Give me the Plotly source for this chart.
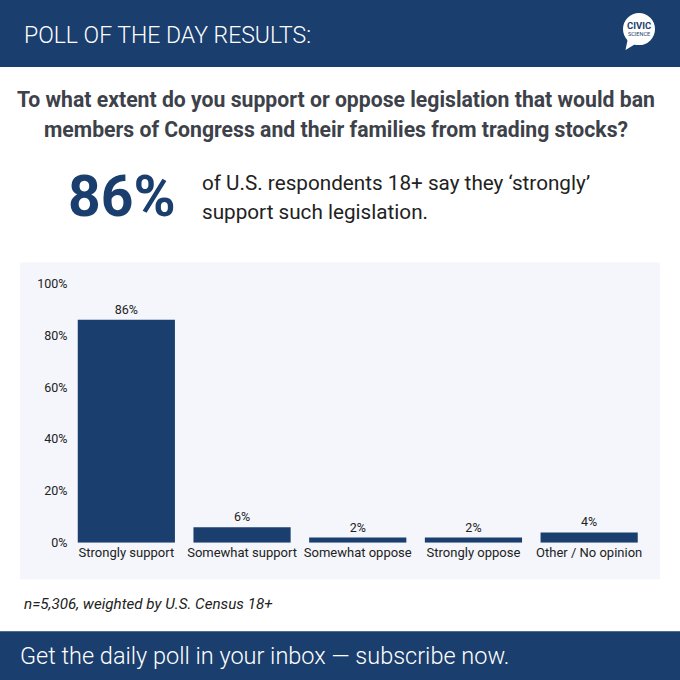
import plotly.graph_objects as go

categories = ["Strongly support", "Somewhat support", "Somewhat oppose", "Strongly oppose", "Other / No opinion"]
values = [86, 6, 2, 2, 4]
tick_vals = [0, 20, 40, 60, 80, 100]
tick_text = ["0%", "20%", "40%", "60%", "80%", "100%"]

NAVY = "#1a3e6d"
GRAY = "#3d4149"
PANEL = "#f4f6fb"
W = H = 680

def py(p):
    # target pixel row -> paper fraction (compensates the capture offset)
    f = (p - 8) / 0.976
    return 1 - f / H

def px(p):
    return p / W

fig = go.Figure()
fig.add_trace(go.Bar(
    x=categories, y=values,
    marker=dict(color=NAVY, line=dict(width=0)),
    text=[f"{v}%" for v in values], textposition="outside",
    textfont=dict(family="Roboto", size=12.5, color="#222222"),
    cliponaxis=False, width=0.84,
))

shapes = [
    dict(type="rect", xref="paper", yref="paper", x0=-0.05, x1=1.05, y0=py(67), y1=1.05,
         fillcolor=NAVY, line=dict(width=0), layer="below"),
    dict(type="rect", xref="paper", yref="paper", x0=-0.05, x1=1.05, y0=-0.05, y1=py(630),
         fillcolor=NAVY, line=dict(width=0), layer="below"),
    dict(type="rect", xref="paper", yref="paper", x0=px(20), x1=px(660), y0=py(578), y1=py(262),
         fillcolor=PANEL, line=dict(width=0), layer="below"),
    # logo bubble
    dict(type="circle", xref="paper", yref="paper", x0=px(623), x1=px(655), y0=py(45), y1=py(13),
         fillcolor="white", line=dict(width=0)),
    dict(type="path", xref="paper", yref="paper",
         path=f"M {px(628)},{py(38)} L {px(625.5)},{py(50)} L {px(637)},{py(43)} Z",
         fillcolor="white", line=dict(width=0)),
]

title_lines = ["To what extent do you support or oppose legislation that would ban",
               "members of Congress and their families from trading stocks?"]
sub_lines = ["of U.S. respondents 18+ say they ‘strongly’", "support such legislation."]

annotations = [
    dict(text="POLL OF THE DAY RESULTS:", x=px(22), y=py(35), xanchor="left", yanchor="middle",
         font=dict(family="Roboto", size=23, color="white", weight=300)),
    dict(text="CIVIC", x=px(639), y=py(25.5), xanchor="center", yanchor="middle",
         font=dict(family="Roboto", size=9.5, color=NAVY, weight=700)),
    dict(text="SCIENCE", x=px(639), y=py(33.5), xanchor="center", yanchor="middle",
         font=dict(family="Roboto", size=5.5, color=NAVY)),
    dict(text=title_lines[0], x=px(336), y=py(99), xanchor="center", yanchor="middle",
         font=dict(family="Roboto", size=21.2, color=GRAY, weight=700)),
    dict(text=title_lines[1], x=px(336), y=py(129), xanchor="center", yanchor="middle",
         font=dict(family="Roboto", size=21.2, color=GRAY, weight=700)),
    dict(text="86%", x=px(178), y=py(196), xanchor="right", yanchor="middle",
         font=dict(family="Roboto", size=57, color=NAVY, weight=700)),
    dict(text=sub_lines[0], x=px(200), y=py(183), xanchor="left", yanchor="middle",
         font=dict(family="Roboto", size=20.7, color="#222222")),
    dict(text=sub_lines[1], x=px(200), y=py(212), xanchor="left", yanchor="middle",
         font=dict(family="Roboto", size=20.7, color="#222222")),
    dict(text="<i>n=5,306, weighted by U.S. Census 18+</i>", x=px(22), y=py(603), xanchor="left", yanchor="middle",
         font=dict(family="Roboto", size=15.2, color="#222222")),
    dict(text="Get the daily poll in your inbox — subscribe now.", x=px(18), y=py(655), xanchor="left", yanchor="middle",
         font=dict(family="Roboto", size=23.5, color="white", weight=300)),
]
for a in annotations:
    a.update(xref="paper", yref="paper", showarrow=False)

fig.update_layout(
    width=W, height=H, margin=dict(l=0, r=0, t=0, b=0),
    paper_bgcolor="white", plot_bgcolor=PANEL,
    shapes=shapes, annotations=annotations, showlegend=False,
    bargap=0.16,
    xaxis=dict(domain=[px(68.5), px(647)], showgrid=False, zeroline=False, showline=False,
               ticks="", tickfont=dict(family="Roboto", size=13, color="#222222"), fixedrange=True),
    yaxis=dict(domain=[py(541.7), py(283)], range=[0, 100], tickvals=tick_vals, ticktext=tick_text,
               showgrid=False, zeroline=False, showline=False, ticks="", ticklabelstandoff=0,
               tickfont=dict(family="Roboto", size=12.5, color="#222222"), fixedrange=True),
)
post = (
    "document.documentElement.style.margin='0';document.documentElement.style.overflow='hidden';"
    "document.body.style.margin='0';document.body.style.overflow='hidden';"
    "var d=document.getElementById('{plot_id}');d.style.position='fixed';d.style.top='0px';d.style.left='0px';"
)
fig.write_html("out.html", config={"displayModeBar": False}, post_script=post)
